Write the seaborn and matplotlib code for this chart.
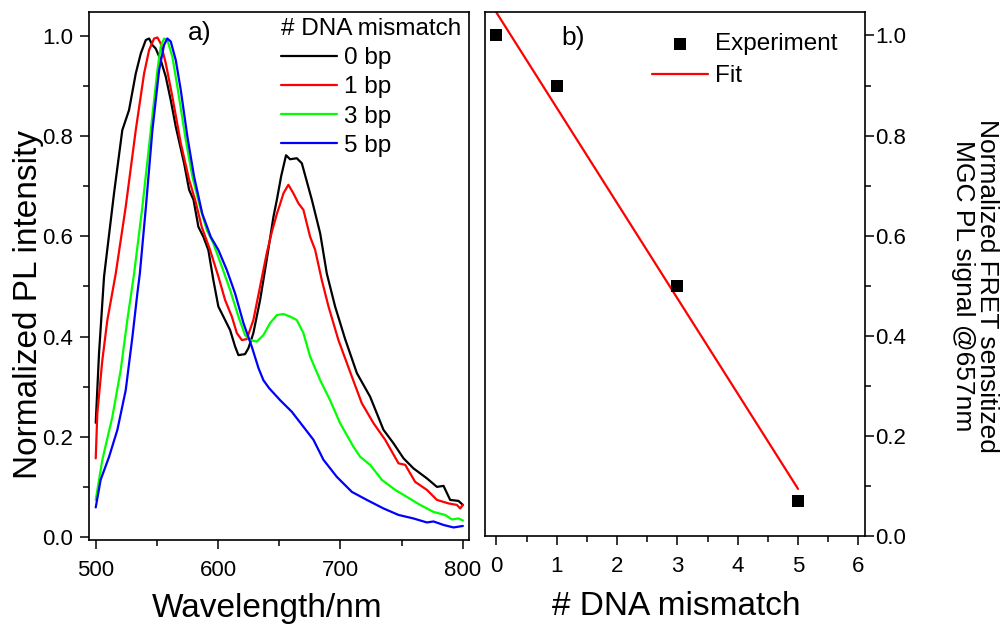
import numpy as np
import matplotlib
matplotlib.use("Agg")
import matplotlib.pyplot as plt
from matplotlib.ticker import MultipleLocator
import seaborn as sns

sns.set_style("ticks", rc={"axes.edgecolor": "black", "text.color": "black",
                           "xtick.color": "black", "ytick.color": "black",
                           "axes.labelcolor": "black"})
plt.rcParams["font.family"] = ["Liberation Sans", "DejaVu Sans"]

# panel a) PL spectra
wl_0bp = [500, 502.7, 506.8, 515, 521.7, 527.2, 532.7, 536.8, 540.9, 543.6, 546.3, 549,
          553.1, 557.2, 561.3, 565.4, 572.2, 576.3, 579.9, 583.9, 588, 592, 596.1, 600.2,
          604.3, 609.8, 613.9, 616.6, 622, 624.8, 628.8, 634.3, 639.7, 645.2, 648, 651.5,
          655.5, 658.8, 664.3, 668.4, 676.6, 683.4, 688.8, 695.6, 703.8, 713.4, 724.2,
          735.1, 743.3, 751.5, 759.6, 770.6, 778.8, 784.2, 789.6, 796.4, 800]
pl_0bp = [0.228, 0.367, 0.52, 0.687, 0.812, 0.852, 0.925, 0.965, 0.992, 0.995, 0.982, 0.975,
          0.952, 0.919, 0.872, 0.819, 0.746, 0.693, 0.673, 0.619, 0.599, 0.573, 0.513, 0.46,
          0.44, 0.413, 0.38, 0.363, 0.365, 0.377, 0.407, 0.473, 0.553, 0.639, 0.673, 0.72,
          0.762, 0.754, 0.756, 0.746, 0.673, 0.606, 0.526, 0.46, 0.395, 0.327, 0.28,
          0.214, 0.187, 0.157, 0.137, 0.117, 0.100, 0.102, 0.074, 0.072, 0.064]

wl_1bp = [500, 501.3, 505.4, 509.5, 516.3, 524.5, 532.7, 539.5, 543.6, 547.7, 550.4, 553.1,
          557.2, 562.6, 569.5, 576.3, 581.2, 586.6, 593.4, 600.2, 605.7, 611.2, 615.3,
          619.4, 623.4, 628.8, 634.3, 639.7, 644, 648, 650.7, 653.4, 657.4, 661.5, 665.6,
          669.7, 675.2, 679.3, 684.7, 690.2, 698.3, 709.3, 717.4, 727, 736.5, 747.4, 752.9,
          761, 770.6, 778.8, 788.3, 795.1, 797.8, 800]
pl_1bp = [0.157, 0.247, 0.353, 0.433, 0.525, 0.659, 0.812, 0.925, 0.972, 0.995, 0.997, 0.985,
          0.946, 0.879, 0.786, 0.713, 0.673, 0.619, 0.573, 0.52, 0.473, 0.44, 0.407,
          0.393, 0.395, 0.433, 0.50, 0.566, 0.61, 0.645, 0.665, 0.686, 0.703, 0.686, 0.666,
          0.653, 0.599, 0.573, 0.513, 0.46, 0.393, 0.32, 0.267, 0.227, 0.194, 0.147, 0.144,
          0.110, 0.094, 0.074, 0.067, 0.064, 0.057, 0.064]

wl_3bp = [500, 505.4, 513.6, 520.4, 525.8, 531.3, 538.1, 545, 550.4, 553.1, 555.8, 558.5,
          562.6, 566.7, 573.6, 579, 585.8, 590.7, 596.1, 603, 609.8, 616.6, 622, 626.1,
          631.6, 637, 642.5, 648, 653.4, 658.8, 664.3, 669.7, 675.2, 683.4, 691.5, 699.7,
          710.6, 716.1, 724.2, 733.8, 744.7, 754.2, 765.1, 776, 785.5, 791, 796.4, 800]
pl_3bp = [0.074, 0.154, 0.24, 0.333, 0.433, 0.525, 0.659, 0.812, 0.932, 0.979, 0.995, 0.992,
          0.959, 0.899, 0.792, 0.719, 0.653, 0.613, 0.586, 0.54, 0.493, 0.44, 0.403, 0.393,
          0.39, 0.403, 0.427, 0.443, 0.445, 0.44, 0.433, 0.407, 0.36, 0.313, 0.273, 0.227,
          0.18, 0.16, 0.144, 0.114, 0.094, 0.080, 0.064, 0.050, 0.044, 0.035, 0.037, 0.033]

wl_5bp = [500, 504, 510.9, 517.7, 524.5, 530, 534, 536, 541, 546.3, 551.8, 555.8, 558.5,
          561.3, 565.4, 569.5, 574.9, 580.4, 587.1, 594, 600.2, 607.1, 613.9, 620.7, 627.5,
          633, 637, 641.7, 650.7, 660.2, 669.7, 677.9, 686.1, 697, 709.3, 721.5, 735.1,
          747.4, 759.6, 770.6, 776, 784.2, 792.4, 800]
pl_5bp = [0.059, 0.114, 0.16, 0.214, 0.293, 0.40, 0.486, 0.525, 0.659, 0.812, 0.932, 0.982,
          0.995, 0.989, 0.952, 0.892, 0.799, 0.719, 0.645, 0.599, 0.573, 0.533, 0.486, 0.427,
          0.38, 0.337, 0.313, 0.297, 0.273, 0.25, 0.22, 0.194, 0.154, 0.12, 0.090, 0.074,
          0.057, 0.044, 0.037, 0.029, 0.031, 0.024, 0.019, 0.022]

spectra = [("0 bp", wl_0bp, pl_0bp, "#000000"),
           ("1 bp", wl_1bp, pl_1bp, "#ff0000"),
           ("3 bp", wl_3bp, pl_3bp, "#00ff00"),
           ("5 bp", wl_5bp, pl_5bp, "#0000ff")]

# panel b) FRET signal vs mismatches
mismatch = [0, 1, 3, 5]
fret_signal = [1.0, 0.90, 0.50, 0.07]

slope, intercept = np.polyfit(mismatch, fret_signal, 1)
fit_x = np.array([min(mismatch), max(mismatch)])
fit_y = slope * fit_x + intercept

fig = plt.figure(figsize=(10, 6.26), dpi=100)
ax1 = fig.add_axes([0.089, 0.1374, 0.38, 0.8435])
ax2 = fig.add_axes([0.485, 0.1438, 0.38, 0.8371])

for label, wl, pl, col in spectra:
    sns.lineplot(x=wl, y=pl, ax=ax1, color=col, lw=1.6, label=label, estimator=None)

sns.scatterplot(x=mismatch, y=fret_signal, ax=ax2, marker="s", s=85, color="black",
                edgecolor="black", linewidth=0, label="Experiment", zorder=3)
sns.lineplot(x=fit_x, y=fit_y, ax=ax2, color="#ff0000", lw=1.6, label="Fit")

ax1.set_xlim(494.5, 805)
ax1.set_ylim(-0.006, 1.048)
ax1.xaxis.set_major_locator(MultipleLocator(100))
ax1.xaxis.set_minor_locator(MultipleLocator(50))
ax1.yaxis.set_major_locator(MultipleLocator(0.2))
ax1.yaxis.set_minor_locator(MultipleLocator(0.1))
ax1.yaxis.set_major_formatter(lambda v, p: f"{v:.1f}")

ax2.set_xlim(-0.19, 6.11)
ax2.set_ylim(0, 1.047)
ax2.xaxis.set_major_locator(MultipleLocator(1))
ax2.xaxis.set_minor_locator(MultipleLocator(0.5))
ax2.yaxis.set_major_locator(MultipleLocator(0.2))
ax2.yaxis.set_minor_locator(MultipleLocator(0.1))
ax2.yaxis.set_major_formatter(lambda v, p: f"{v:.1f}")
ax2.yaxis.tick_right()

for ax in (ax1, ax2):
    for sp in ax.spines.values():
        sp.set_visible(True)
        sp.set_linewidth(1.2)
        sp.set_color("black")
    ax.set_xlabel("")
    ax.set_ylabel("")
    ax.tick_params(which="both", direction="out", width=1.1, labelsize=16)
    ax.tick_params(which="major", length=6.5)
    ax.tick_params(which="minor", length=4)
    ax.tick_params(axis="x", pad=8)

ax1.tick_params(which="both", top=False, right=False)
ax1.tick_params(axis="y", pad=5)
ax2.tick_params(which="both", top=False, left=False, right=True)
ax2.tick_params(axis="y", pad=1)

leg_kw = dict(frameon=False, fontsize=17.5, handlelength=2.3, handletextpad=0.3,
              borderpad=0, borderaxespad=0, loc="upper left")
ax1.legend(title="# DNA mismatch", title_fontsize=17.5, alignment="left",
           labelspacing=0.3, bbox_to_anchor=(0.505, 0.989), **leg_kw)
ax2.legend(labelspacing=0.42, bbox_to_anchor=(0.4395, 0.96), **leg_kw)

ax1.text(0.2605, 0.947, "a)", transform=ax1.transAxes, fontsize=19, va="baseline")
ax2.text(0.202, 0.937, "b)", transform=ax2.transAxes, fontsize=19, va="baseline")

fig.text(0.0285, 0.514, "Normalized PL intensity", rotation=90, fontsize=24,
         ha="center", va="center")
fig.text(0.267, 0.0149, "Wavelength/nm", fontsize=24, ha="center", va="baseline")
fig.text(0.676, 0.0176, "# DNA mismatch", fontsize=24, ha="center", va="baseline")
fig.text(0.975, 0.543, "Normalized FRET sensitized\nMGC PL signal @657nm", rotation=270,
         fontsize=19, ha="center", va="center", multialignment="center", linespacing=1.05)

fig.savefig("out.png", dpi=100)
